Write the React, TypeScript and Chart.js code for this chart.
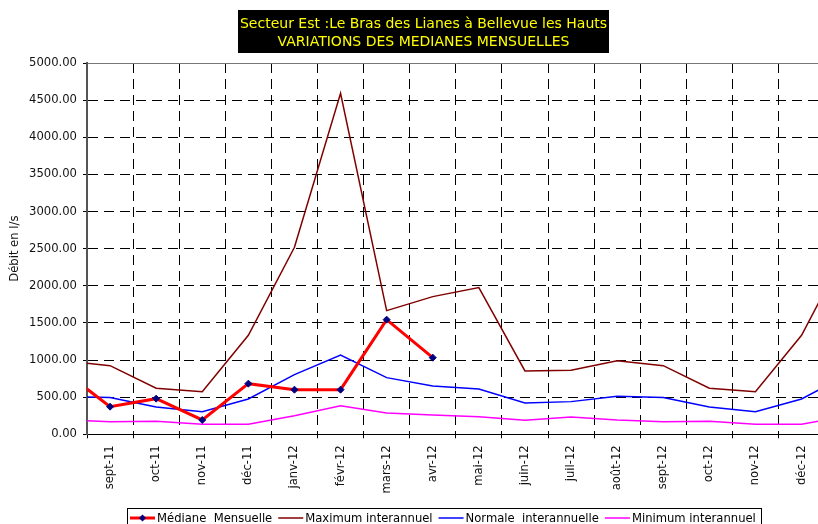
import React, { useEffect, useRef } from 'react';
import Chart from 'chart.js/auto';

// Months on the x axis; the first and last are just outside the visible range
const months = ['août-11', 'sept-11', 'oct-11', 'nov-11', 'déc-11', 'janv-12', 'févr-12', 'mars-12', 'avr-12', 'mai-12', 'juin-12', 'juil-12', 'août-12', 'sept-12', 'oct-12', 'nov-12', 'déc-12', 'janv-13'];
const firstVisible = 1;
const lastVisible = 16;

const medianeMensuelle = [848, 372, 480, 193, 682, 601, 601, 1544, 1032, null, null, null, null, null, null, null, null, null];
const maximumInterannuel = [991, 924, 620, 572, 1333, 2519, 4593, 1665, 1854, 1975, 853, 862, 991, 924, 620, 572, 1333, 2519];
const normaleInterannuelle = [512, 495, 368, 305, 475, 803, 1068, 763, 651, 610, 421, 440, 512, 495, 368, 305, 475, 803];
const minimumInterannuel = [193, 170, 177, 135, 135, 251, 385, 287, 260, 237, 188, 233, 193, 170, 177, 135, 135, 251];

const seriesNames = ['Médiane  Mensuelle', 'Maximum interannuel', 'Normale  interannuelle', 'Minimum interannuel'];
const titleLines = ['Secteur Est :Le Bras des Lianes à Bellevue les Hauts', 'VARIATIONS DES MEDIANES MENSUELLES'];
const yAxisTitle = 'Débit en l/s';
const yMin = 0;
const yMax = 5000;
const yStep = 500;

const colors = ['#FF0000', '#800000', '#0000FF', '#FF00FF'];
const widths = [3, 1.5, 1.5, 1.5];
const markerColor = '#000080';
const FONT = '"DejaVu Sans", Verdana, sans-serif';

const toPoints = (arr: (number | null)[]) => arr.map((v, i) => ({ x: i, y: v }));

const titlePlugin = {
  id: 'boxTitle',
  afterDraw(chart: any) {
    const ctx = chart.ctx as CanvasRenderingContext2D;
    ctx.save();
    ctx.font = `14px ${FONT}`;
    const w = Math.max(...titleLines.map((t) => ctx.measureText(t).width)) + 4;
    const cx = 423.5;
    ctx.fillStyle = '#000';
    ctx.fillRect(Math.round(cx - w / 2), 10, Math.round(w), 43);
    ctx.fillStyle = '#FFFF00';
    ctx.textAlign = 'center';
    ctx.textBaseline = 'alphabetic';
    ctx.fillText(titleLines[0], cx, 28);
    ctx.fillText(titleLines[1], cx, 46);
    ctx.restore();
  },
};

const legendPlugin = {
  id: 'boxLegend',
  afterDraw(chart: any) {
    const ctx = chart.ctx as CanvasRenderingContext2D;
    ctx.save();
    ctx.font = `11.6px ${FONT}`;
    ctx.textBaseline = 'alphabetic';
    ctx.textAlign = 'left';
    const ly = 518;
    let x = 130;
    seriesNames.forEach((name, k) => {
      ctx.strokeStyle = colors[k];
      ctx.lineWidth = widths[k];
      ctx.beginPath();
      ctx.moveTo(x, ly);
      ctx.lineTo(x + 25, ly);
      ctx.stroke();
      if (k === 0) {
        const r = 3.5;
        const mx = x + 12.5;
        ctx.fillStyle = markerColor;
        ctx.beginPath();
        ctx.moveTo(mx, ly - r);
        ctx.lineTo(mx + r, ly);
        ctx.lineTo(mx, ly + r);
        ctx.lineTo(mx - r, ly);
        ctx.closePath();
        ctx.fill();
      }
      ctx.fillStyle = '#000';
      ctx.fillText(name, x + 27, 522);
      x += 27 + ctx.measureText(name).width + 6;
    });
    ctx.strokeStyle = '#000';
    ctx.lineWidth = 1;
    ctx.strokeRect(127.5, 508.5, Math.round(x - 127.5), 30);
    ctx.restore();
  },
};

export default function App() {
  const ref = useRef<HTMLCanvasElement | null>(null);

  useEffect(() => {
    if (!ref.current) return;
    const tickFont = { family: FONT, size: 11.6 };
    const dash = [10, 6];
    const chart = new Chart(ref.current, {
      type: 'line',
      data: {
        datasets: [
          {
            label: seriesNames[0],
            data: toPoints(medianeMensuelle),
            borderColor: colors[0],
            borderWidth: widths[0],
            pointStyle: 'rectRot',
            pointRadius: 3.5,
            pointBackgroundColor: markerColor,
            pointBorderColor: markerColor,
            pointBorderWidth: 1,
            clip: 0,
          },
          {
            label: seriesNames[1],
            data: toPoints(maximumInterannuel),
            borderColor: colors[1],
            borderWidth: widths[1],
            pointRadius: 0,
            clip: 0,
          },
          {
            label: seriesNames[2],
            data: toPoints(normaleInterannuelle),
            borderColor: colors[2],
            borderWidth: widths[2],
            pointRadius: 0,
            clip: 0,
          },
          {
            label: seriesNames[3],
            data: toPoints(minimumInterannuel),
            borderColor: colors[3],
            borderWidth: widths[3],
            pointRadius: 0,
            clip: 0,
          },
        ],
      },
      options: {
        animation: false,
        responsive: false,
        devicePixelRatio: 1,
        layout: { padding: { left: 0, top: 63, right: 25.4, bottom: 30 } },
        plugins: {
          legend: { display: false },
          title: { display: false },
          tooltip: { enabled: false },
        },
        scales: {
          x: {
            type: 'linear',
            min: firstVisible - 0.5,
            max: lastVisible + 0.5,
            afterBuildTicks: (s: any) => {
              const t = [];
              for (let i = firstVisible; i <= lastVisible; i++) t.push({ value: i });
              s.ticks = t;
            },
            afterFit: (s: any) => {
              s.height = 59.7;
            },
            grid: {
              offset: true,
              color: '#000',
              lineWidth: 1,
              tickLength: 4,
              tickColor: '#000',
              tickBorderDash: [],
            },
            border: { display: true, color: '#000', width: 1, dash },
            ticks: {
              autoSkip: false,
              maxRotation: 90,
              minRotation: 90,
              padding: 7,
              color: '#111',
              font: tickFont,
              callback: (v: any) => months[Math.round(Number(v))],
            },
          },
          y: {
            min: yMin,
            max: yMax,
            afterFit: (s: any) => {
              s.width = 87;
            },
            grid: {
              color: (c: any) => (c.tick && c.tick.value === yMax ? '#777' : '#000'),
              lineWidth: 1,
              tickLength: 4,
              tickColor: '#000',
              tickBorderDash: [],
            },
            border: {
              display: true,
              color: '#555',
              width: 2,
              dash: (c: any) => (c.tick && c.tick.value === yMax ? [] : dash),
            },
            ticks: {
              stepSize: yStep,
              padding: 6,
              color: '#111',
              font: tickFont,
              callback: (v: any) => Number(v).toFixed(2),
            },
            title: {
              display: true,
              text: yAxisTitle,
              color: '#111',
              font: { family: FONT, size: 11.6, lineHeight: 1.2 },
              padding: { top: 8.5, bottom: 0 },
            },
          },
        },
      },
      plugins: [titlePlugin, legendPlugin],
    } as any);
    return () => chart.destroy();
  }, []);

  return (
    <div
      style={{
        position: 'absolute',
        left: 0,
        top: 0,
        width: 818,
        height: 524,
        overflow: 'hidden',
        background: '#fff',
      }}
    >
      <canvas ref={ref} width={850} height={524} style={{ width: 850, height: 524, display: 'block' }} />
    </div>
  );
}
